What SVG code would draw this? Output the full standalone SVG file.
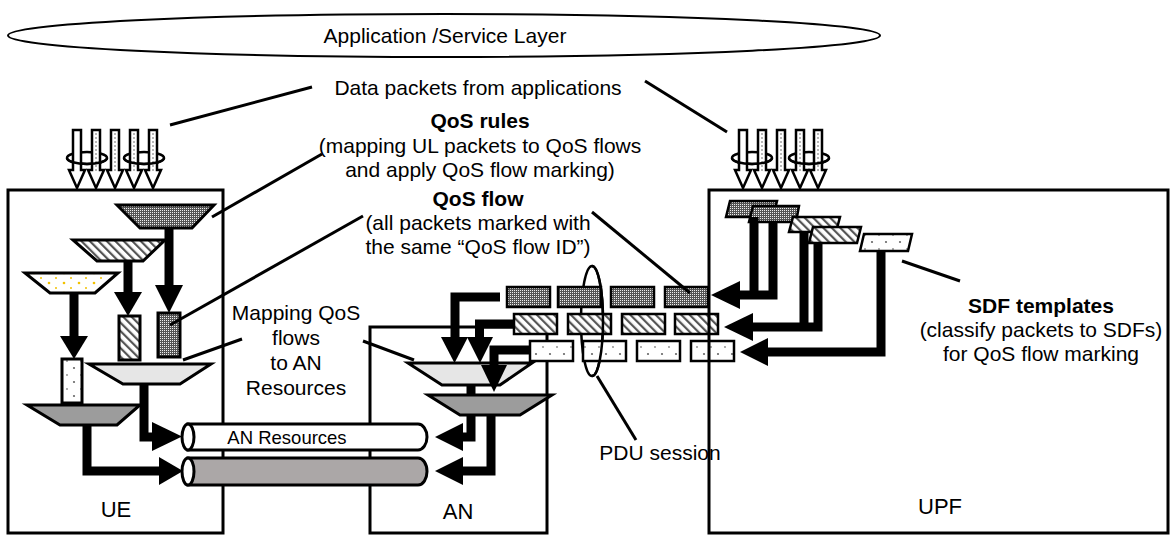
<svg xmlns="http://www.w3.org/2000/svg" xmlns:xlink="http://www.w3.org/1999/xlink" width="1174" height="536" viewBox="0 0 1174 536">
<defs>
<pattern id="checker" width="2" height="2" patternUnits="userSpaceOnUse"><rect width="2" height="2" fill="#555"/><rect width="1" height="1" fill="#eee"/></pattern>
<pattern id="hatch" width="6" height="6" patternUnits="userSpaceOnUse" patternTransform="rotate(-45)"><rect width="6" height="6" fill="#fff"/><rect width="2.2" height="6" fill="#555"/></pattern>
<pattern id="dots" width="14" height="14" patternUnits="userSpaceOnUse"><rect width="14" height="14" fill="#fff"/><circle cx="4" cy="4" r="1.1" fill="#666"/><circle cx="11" cy="11" r="0.9" fill="#888"/></pattern>
<pattern id="ydots" width="15" height="10" patternUnits="userSpaceOnUse"><rect width="15" height="10" fill="#fff"/><circle cx="4" cy="3" r="1.3" fill="#f2c200"/><circle cx="11" cy="8" r="1" fill="#f2c200"/></pattern>
<path id="harrow" d="M-4,130 H4 V170 H8 L0,188 L-8,170 H-4 Z"/>
</defs>
<style>
.box{fill:#fff;stroke:#000;stroke-width:3}
.shp{stroke:#000;stroke-width:3;stroke-linejoin:miter}
.pk{stroke:#000;stroke-width:2.5}
.ha{fill:#fff;stroke:#000;stroke-width:2.5}
.hl{stroke:#888;stroke-width:1.2;stroke-dasharray:2 2}
.loop{fill:none;stroke:#000;stroke-width:2.5}
.thick{fill:none;stroke:#000;stroke-width:9;stroke-linejoin:miter}
.lead{fill:none;stroke:#000;stroke-width:3}
.head{fill:#000}
text{font-family:"Liberation Sans",Arial,sans-serif;fill:#000;font-size:21px}
.b{font-weight:bold}
.m{text-anchor:middle}
</style>
<rect width="1174" height="536" fill="#fff"/>

<g id="app-layer">
<ellipse cx="444" cy="35.5" rx="436" ry="21.5" fill="#fff" stroke="#000" stroke-width="2"/>
<text class="m" x="445" y="43">Application /Service Layer</text>
</g>

<g id="ue">
<rect class="box" x="8" y="190" width="215" height="343"/>
<polygon class="shp" points="117,205 214,205 192,228 140,228" fill="url(#checker)"/>
<polygon class="shp" points="73,240 165,240 143,261 97,261" fill="url(#hatch)"/>
<polygon class="shp" points="25,273 118,273 95,293 50,293" fill="url(#ydots)"/>
<rect class="shp" x="158" y="313" width="22" height="44" fill="url(#checker)"/>
<rect class="shp" x="119" y="316" width="21" height="44" fill="url(#hatch)"/>
<rect class="shp" x="62" y="359" width="20" height="44" fill="url(#dots)"/>
<polygon class="shp" points="89,364 211,364 180,384 123,384" fill="#e6e6e6"/>
<polygon class="shp" points="27,405 140,405 117,425 60,425" fill="#9c9c9c"/>
<text class="m" x="116" y="517" style="font-size:22px">UE</text>
</g>

<g id="an">
<rect class="box" x="370" y="327" width="177" height="206"/>
<polygon class="shp" points="408,363 532,363 500,385 442,385" fill="#e6e6e6"/>
<polygon class="shp" points="428,395 552,395 520,415 460,415" fill="#9c9c9c"/>
<text class="m" x="458" y="519" style="font-size:22px">AN</text>
</g>

<g id="pdu-session-back">
<ellipse class="loop" cx="592" cy="321" rx="11" ry="55"/>
</g>

<g id="qos-flow-packets">
<rect class="pk" x="507" y="287" width="43" height="20" fill="url(#checker)"/>
<rect class="pk" x="558" y="287" width="43" height="20" fill="url(#checker)"/>
<rect class="pk" x="611" y="287" width="43" height="20" fill="url(#checker)"/>
<rect class="pk" x="665" y="287" width="43" height="20" fill="url(#checker)"/>
<rect class="pk" x="514" y="314" width="43" height="20" fill="url(#hatch)"/>
<rect class="pk" x="568" y="314" width="43" height="20" fill="url(#hatch)"/>
<rect class="pk" x="622" y="314" width="43" height="20" fill="url(#hatch)"/>
<rect class="pk" x="675" y="314" width="43" height="20" fill="url(#hatch)"/>
<rect class="pk" x="530" y="341" width="43" height="20" fill="url(#dots)"/>
<rect class="pk" x="583" y="341" width="43" height="20" fill="url(#dots)"/>
<rect class="pk" x="637" y="341" width="43" height="20" fill="url(#dots)"/>
<rect class="pk" x="691" y="341" width="43" height="20" fill="url(#dots)"/>
</g>

<g id="upf">
<rect x="709" y="190" width="459" height="343" fill="none" stroke="#000" stroke-width="3"/>
<polygon class="pk" points="730,201 777,201 773,217 726,217" fill="url(#checker)"/>
<polygon class="pk" points="753,206 799,206 796,222 749,222" fill="url(#checker)"/>
<polygon class="pk" points="793,217 840,217 836,232 789,232" fill="url(#hatch)"/>
<polygon class="pk" points="813,227 861,227 857,243 809,243" fill="url(#hatch)"/>
<polygon class="pk" points="864,234 912,234 908,251 860,251" fill="url(#dots)"/>
<text class="m" x="940" y="514" style="font-size:22px">UPF</text>
</g>

<g id="an-resources">
<path d="M188,424 H418 A9,13 0 0 1 418,450 H188 Z" fill="#fff" stroke="#000" stroke-width="3"/>
<ellipse cx="188" cy="437" rx="6" ry="13" fill="#fff" stroke="#000" stroke-width="3"/>
<path d="M188,458 H418 A9,13.5 0 0 1 418,485 H188 Z" fill="#aba7a7" stroke="#000" stroke-width="3"/>
<ellipse cx="188" cy="471.5" rx="6" ry="13.5" fill="#fff" stroke="#000" stroke-width="3"/>
<text class="m" x="287" y="444" style="font-size:18.5px">AN Resources</text>
</g>

<g id="app-packets">
<ellipse class="loop" cx="87" cy="158" rx="20" ry="6"/>
<ellipse class="loop" cx="144" cy="158" rx="20" ry="6"/>
<use xlink:href="#harrow" href="#harrow" x="77" class="ha"/>
<use xlink:href="#harrow" href="#harrow" x="96" class="ha"/>
<use xlink:href="#harrow" href="#harrow" x="115" class="ha"/>
<use xlink:href="#harrow" href="#harrow" x="134" class="ha"/>
<use xlink:href="#harrow" href="#harrow" x="153" class="ha"/>
<path class="hl" d="M96,133 V172 M115,133 V172 M134,133 V172 M153,133 V172"/>
<path class="loop" d="M67,158 A20,6 0 0 0 107,158 M124,158 A20,6 0 0 0 164,158"/>
<ellipse class="loop" cx="752" cy="158" rx="20" ry="6"/>
<ellipse class="loop" cx="809" cy="158" rx="20" ry="6"/>
<use xlink:href="#harrow" href="#harrow" x="743" class="ha"/>
<use xlink:href="#harrow" href="#harrow" x="762" class="ha"/>
<use xlink:href="#harrow" href="#harrow" x="781" class="ha"/>
<use xlink:href="#harrow" href="#harrow" x="800" class="ha"/>
<use xlink:href="#harrow" href="#harrow" x="818" class="ha"/>
<path class="hl" d="M762,133 V172 M781,133 V172 M800,133 V172 M818,133 V172"/>
<path class="loop" d="M732,158 A20,6 0 0 0 772,158 M789,158 A20,6 0 0 0 829,158"/>
</g>

<g id="connectors">
<path class="thick" d="M169,228 V287"/><polygon class="head" points="155,285 183,285 169,313"/>
<path class="thick" d="M128,261 V294"/><polygon class="head" points="114,292 142,292 128,316"/>
<path class="thick" d="M74,293 V337"/><polygon class="head" points="60,336 88,336 74,359"/>
<path class="thick" d="M144,384 V437 H153"/><polygon class="head" points="152,422 152,451 182,436.5"/>
<path class="thick" d="M87,425 V471 H160"/><polygon class="head" points="159,457 159,485 183,471"/>
<path class="thick" d="M500,297 H455 V338"/><polygon class="head" points="441,337 468,337 454.5,363"/>
<path class="thick" d="M513,324 H479.5 V338"/><polygon class="head" points="467,337 493,337 480,363"/>
<path class="thick" d="M530,350 H494 V366"/><polygon class="head" points="481,365 507,365 494,392"/>
<path class="thick" d="M471,385 V395"/>
<path class="thick" d="M471,415 V437 H462"/><polygon class="head" points="463,423 463,451 435,437"/>
<path class="thick" d="M491,415 V471 H462"/><polygon class="head" points="463,457 463,485 435,471"/>
<path class="thick" d="M754,217 V295.5 M773,222 V295 H739"/><polygon class="head" points="740,281 740,309 711,295"/>
<path class="thick" d="M804,232 V327.5 M818,243 V327 H752"/><polygon class="head" points="753,313 753,341 724,327"/>
<path class="thick" d="M881,251 V352 H767"/><polygon class="head" points="768,338 768,366 740,352"/>
<line class="lead" x1="170" y1="125" x2="312" y2="87"/>
<line class="lead" x1="645" y1="81" x2="727" y2="132"/>
<line class="lead" x1="212" y1="217" x2="322" y2="154"/>
<line class="lead" x1="170" y1="325" x2="363" y2="216"/>
<line class="lead" x1="592" y1="212" x2="690" y2="293"/>
<line class="lead" x1="183" y1="360" x2="242" y2="339"/>
<line class="lead" x1="363" y1="341" x2="414" y2="360"/>
<line class="lead" x1="902" y1="261" x2="960" y2="281"/>
<line class="lead" x1="597" y1="376" x2="636" y2="440"/>
</g>

<g id="pdu-session">
<path class="loop" d="M592,266 A11,55 0 0 1 592,376"/>
<text class="m" x="660" y="460">PDU session</text>
</g>

<g id="labels">
<text class="m" x="478" y="95">Data packets from applications</text>
<text class="m b" x="480" y="128">QoS rules</text>
<text class="m" x="480" y="153">(mapping UL packets to QoS flows</text>
<text class="m" x="480" y="177">and apply QoS flow marking)</text>
<text class="m b" x="478" y="206">QoS flow</text>
<text class="m" x="478" y="230">(all packets marked with</text>
<text class="m" x="478" y="254">the same “QoS flow ID”)</text>
<text class="m" x="296" y="320">Mapping QoS</text>
<text class="m" x="296" y="345">flows</text>
<text class="m" x="296" y="370">to AN</text>
<text class="m" x="296" y="395">Resources</text>
<text class="m b" x="1041" y="313">SDF templates</text>
<text class="m" x="1041" y="337">(classify packets to SDFs)</text>
<text class="m" x="1041" y="361">for QoS flow marking</text>
</g>
</svg>
